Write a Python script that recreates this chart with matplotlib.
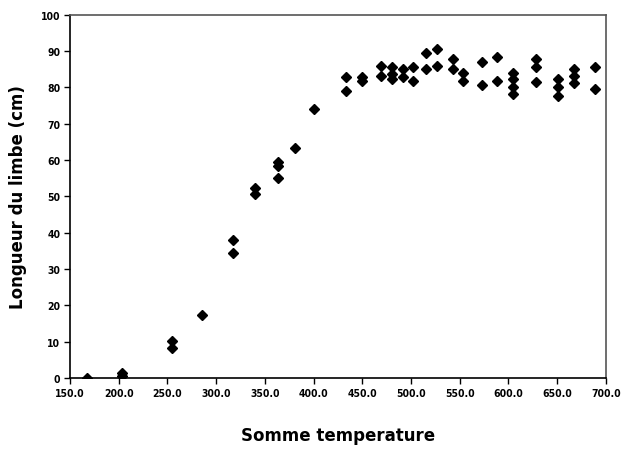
import matplotlib
matplotlib.use("Agg")
import matplotlib.pyplot as plt
from matplotlib.ticker import FormatStrFormatter

# somme des temperatures and longueur du limbe (cm)
somme_temp = [167, 203, 203, 255, 255, 286, 317, 317, 340, 340,
              364, 364, 364, 381, 400,
              433, 433, 450, 450, 469, 469, 481, 481, 481, 492, 492,
              502, 502, 515, 515, 527, 527, 543, 543, 553, 553,
              573, 573, 588, 588, 605, 605, 605, 605, 628, 628, 628,
              651, 651, 651, 667, 667, 667, 689, 689]
longueur = [0.0, 0.6, 1.5, 10.2, 8.2, 17.3, 38.0, 34.3, 52.2, 50.8,
            59.4, 58.4, 55.0, 63.2, 74.0,
            82.9, 79.1, 82.8, 81.8, 86.0, 83.2, 85.5, 83.7, 82.3, 85.0, 82.8,
            85.5, 81.8, 89.4, 85.0, 90.5, 86.0, 87.8, 85.0, 84.1, 81.8,
            86.9, 80.6, 88.3, 81.8, 84.1, 82.3, 80.0, 78.2, 87.8, 85.5, 81.4,
            82.3, 80.0, 77.7, 85.0, 83.2, 81.2, 85.5, 79.5]

x_ticks = list(range(150, 701, 50))
y_ticks = list(range(0, 101, 10))


def main():
    fig = plt.figure(figsize=(6.22, 4.52), dpi=100)
    ax = fig.add_axes([0.1125, 0.1615, 0.8615, 0.8035])

    ax.plot(somme_temp, longueur, 'D', color='black', markersize=5.5,
            linestyle='none')

    ax.set_xlim(150, 700)
    ax.set_ylim(0, 100)
    ax.set_xticks(x_ticks)
    ax.set_yticks(y_ticks)
    ax.xaxis.set_major_formatter(FormatStrFormatter('%.1f'))
    ax.tick_params(direction='out', length=4, width=1, labelsize=7.5,
                   pad=3)
    for lab in ax.get_xticklabels() + ax.get_yticklabels():
        lab.set_fontweight('bold')
        lab.set_family('DejaVu Sans')
        lab.set_stretch('condensed')
    ax.spines['left'].set_color('black')
    ax.spines['bottom'].set_color('black')
    ax.spines['top'].set_color('#555555')
    ax.spines['right'].set_color('#555555')
    for sp in ax.spines.values():
        sp.set_linewidth(1.2)

    ax.set_xlabel('Somme temperature', fontsize=12, fontweight='bold',
                  labelpad=20)
    ax.set_ylabel('Longueur du limbe (cm)', fontsize=12, fontweight='bold',
                  labelpad=10)

    fig.savefig('out.png', dpi=100)


if __name__ == "__main__":
    main()
